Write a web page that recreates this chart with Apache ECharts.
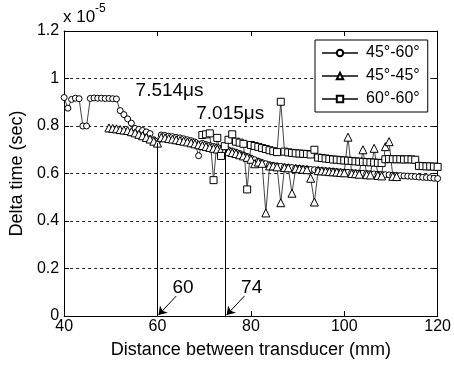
<!DOCTYPE html>
<html>
<head>
<meta charset="utf-8">
<script src="https://cdn.jsdelivr.net/npm/echarts@6/dist/echarts.min.js"></script>
<style>
  html, body { margin: 0; background: #fff; }
  #main { width: 454px; height: 365px; }
</style>
</head>
<body>
<div id="main"></div>
<script>
// distance between transducers (mm)
const distance = [
  40, 40.8, 41.6, 42.4, 43.2, 44, 44.8, 45.6, 46.4, 47.2,
  48, 48.8, 49.6, 50.4, 51.2, 52, 52.8, 53.6, 54.4, 55.2,
  56, 56.8, 57.6, 58.4, 59.2, 60, 60.8, 61.6, 62.4, 63.2,
  64, 64.8, 65.6, 66.4, 67.2, 68, 68.8, 69.6, 70.4, 71.2,
  72, 72.8, 73.6, 74.4, 75.2, 76, 76.8, 77.6, 78.4, 79.2,
  80, 80.8, 81.6, 82.4, 83.2, 84, 84.8, 85.6, 86.4, 87.2,
  88, 88.8, 89.6, 90.4, 91.2, 92, 92.8, 93.6, 94.4, 95.2,
  96, 96.8, 97.6, 98.4, 99.2, 100, 100.8, 101.6, 102.4, 103.2,
  104, 104.8, 105.6, 106.4, 107.2, 108, 108.8, 109.6, 110.4, 111.2,
  112, 112.8, 113.6, 114.4, 115.2, 116, 116.8, 117.6, 118.4, 119.2,
  120
];

// delta time, x 1e-5 sec
const d45_60 = [
  0.92, 0.875, 0.912, 0.917, 0.915, 0.80, 0.80, 0.916, 0.918, 0.917,
  0.917, 0.916, 0.916, 0.915, 0.914, 0.865, 0.848, 0.83, 0.812, 0.79,
  0.786, 0.781, 0.775, 0.768, 0.742, 0.736, 0.762, 0.76, 0.757, 0.755,
  0.752, 0.75, 0.746, 0.742, 0.738, 0.733, 0.675, 0.727, 0.722, 0.718,
  0.714, 0.71, 0.706, 0.702, 0.699, 0.695, 0.69, 0.684, 0.678, 0.672,
  0.665, 0.658, 0.652, 0.646, 0.641, 0.637, 0.634, 0.632, 0.63, 0.628,
  0.626, 0.625, 0.623, 0.622, 0.62, 0.619, 0.617, 0.616, 0.615, 0.613,
  0.612, 0.611, 0.61, 0.608, 0.607, 0.606, 0.605, 0.604, 0.603, 0.602,
  0.601, 0.6, 0.599, 0.598, 0.597, 0.596, 0.595, 0.594, 0.593, 0.592,
  0.591, 0.59, 0.589, 0.588, 0.587, 0.585, 0.584, 0.583, 0.582, 0.58,
  0.579
];

const d45_45 = [
  null, null, null, null, null, null, null, null, null, null,
  null, null, 0.792, 0.79, 0.788, 0.785, 0.783, 0.781, 0.776, 0.771,
  0.765, 0.759, 0.752, 0.745, 0.736, 0.728, 0.752, 0.75, 0.747, 0.745,
  0.742, 0.739, 0.736, 0.733, 0.729, 0.725, 0.721, 0.718, 0.714, 0.71,
  0.706, 0.703, 0.699, 0.696, 0.692, 0.688, 0.684, 0.679, 0.674, 0.668,
  0.66, 0.641, 0.648, 0.643, 0.434, 0.632, 0.632, 0.628, 0.477, 0.625,
  0.624, 0.517, 0.621, 0.62, 0.618, 0.616, 0.58, 0.48, 0.612, 0.611,
  0.61, 0.608, 0.607, 0.606, 0.604, 0.603, 0.753, 0.6, 0.599, 0.597,
  0.70, 0.595, 0.594, 0.706, 0.592, 0.59, 0.713, 0.734, 0.588, 0.587,
  null, null, null, null, null, null, null, null, null, null,
  null
];

const d60_60 = [
  null, null, null, null, null, null, null, null, null, null,
  null, null, null, null, null, null, null, null, null, null,
  null, null, null, null, null, null, null, null, null, null,
  null, null, null, null, null, null, null, 0.762, 0.765, 0.769,
  0.572, 0.75, 0.674, 0.715, 0.742, 0.765, 0.734, 0.73, 0.725, 0.533,
  0.72, 0.716, 0.712, 0.707, 0.703, 0.698, 0.694, 0.69, 0.902, 0.692,
  0.689, 0.687, 0.685, 0.684, 0.683, 0.682, 0.68, 0.70, 0.667, 0.665,
  0.663, 0.661, 0.659, 0.658, 0.656, 0.655, 0.654, 0.653, 0.651, 0.65,
  0.649, 0.648, 0.647, 0.646, 0.645, 0.644, 0.66, 0.661, 0.66, 0.66,
  0.66, 0.659, 0.66, 0.659, 0.658, 0.632, 0.631, 0.63, 0.63, 0.629,
  0.628
];

// annotations
const markX = [60, 74.6];
const markTop = [0.728, 0.70];
const markText = ['60', '74'];
const peakText = ['7.514\u03bcs', '7.015\u03bcs'];

const font = '"Liberation Sans", Arial, sans-serif';
const chart = echarts.init(document.getElementById('main'));

const pairs = (vals) => distance.map((x, i) => [x, vals[i]]).filter(p => p[1] != null);

const makeSeries = (name, symbol, size, vals) => ({
  name,
  type: 'line',
  data: pairs(vals),
  symbol,
  symbolSize: size,
  lineStyle: { color: '#444', width: 1 },
  itemStyle: { color: '#fff', borderColor: '#000', borderWidth: 1 },
  emphasis: { disabled: true },
  animation: false
});

const s1 = makeSeries('45°-60°', 'circle', 6, d45_60);
s1.markLine = {
  silent: true,
  animation: false,
  symbol: ['none', 'none'],
  label: { show: false },
  lineStyle: { color: '#000', width: 1, type: 'solid' },
  data: [
    [{ coord: [markX[0], markTop[0]] }, { coord: [markX[0], 0] }],
    [{ coord: [markX[1], markTop[1]] }, { coord: [markX[1], 0] }],
    [{ coord: [markX[0] + 4, 0.084] }, { coord: [markX[0] + 0.2, 0.004], symbol: 'arrow', symbolSize: 8 }],
    [{ coord: [markX[1] + 4, 0.084] }, { coord: [markX[1] + 0.2, 0.004], symbol: 'arrow', symbolSize: 8 }]
  ]
};
s1.markPoint = {
  silent: true,
  animation: false,
  symbol: 'circle',
  symbolSize: 0,
  label: { show: true, position: 'right', distance: 0, color: '#000', fontFamily: font, fontSize: 19 },
  data: [
    { coord: [55.3, 0.947], label: { formatter: peakText[0] } },
    { coord: [68.3, 0.85], label: { formatter: peakText[1] } },
    { coord: [markX[0] + 3.2, 0.118], label: { formatter: markText[0] } },
    { coord: [markX[1] + 3.3, 0.118], label: { formatter: markText[1] } }
  ]
};

const axisLine = { show: true, onZero: false, lineStyle: { color: '#000', width: 1 } };
const tick = { show: true, inside: true, length: 5, lineStyle: { color: '#000' } };

chart.setOption({
  animation: false,
  backgroundColor: '#fff',
  grid: { left: 63, right: 15, top: 31, bottom: 49 },
  legend: {
    orient: 'vertical',
    left: 315,
    top: 40,
    padding: [5, 8, 5, 6],
    itemGap: 7,
    itemWidth: 36,
    itemHeight: 8,
    backgroundColor: '#fff',
    borderColor: '#000',
    borderWidth: 1,
    textStyle: { color: '#000', fontFamily: font, fontSize: 16, padding: [0, 0, 0, 3] },
    data: ['45°-60°', '45°-45°', '60°-60°']
  },
  xAxis: [
    {
      type: 'value', min: 40, max: 120, interval: 20, position: 'bottom',
      axisLine, axisTick: tick,
      axisLabel: { color: '#000', fontFamily: font, fontSize: 16, margin: 3 },
      splitLine: { show: false },
      name: 'Distance between transducer (mm)',
      nameLocation: 'middle', nameGap: 25,
      nameTextStyle: { color: '#000', fontFamily: font, fontSize: 18 }
    },
    {
      type: 'value', min: 40, max: 120, interval: 20, position: 'top',
      axisLine, axisTick: tick, axisLabel: { show: false }, splitLine: { show: false }
    }
  ],
  yAxis: [
    {
      type: 'value', min: 0, max: 1.2, interval: 0.2, position: 'left',
      axisLine, axisTick: tick,
      axisLabel: { color: '#000', fontFamily: font, fontSize: 16, margin: 5 },
      splitLine: { show: true, lineStyle: { color: '#222', width: 1, type: [3, 3] } },
      name: 'Delta time (sec)',
      nameLocation: 'middle', nameGap: 33,
      nameTextStyle: { color: '#000', fontFamily: font, fontSize: 18 }
    },
    {
      type: 'value', min: 0, max: 1.2, interval: 0.2, position: 'right',
      axisLine, axisTick: tick, axisLabel: { show: false }, splitLine: { show: false }
    }
  ],
  graphic: [
    { type: 'text', left: 63, top: 9, style: { text: 'x 10', fill: '#000', font: '17px ' + font } },
    { type: 'text', left: 95, top: 3, style: { text: '-5', fill: '#000', font: '12px ' + font } }
  ],
  series: [
    s1,
    makeSeries('45°-45°', 'triangle', 8, d45_45),
    makeSeries('60°-60°', 'rect', 7, d60_60)
  ]
});
</script>
</body>
</html>
